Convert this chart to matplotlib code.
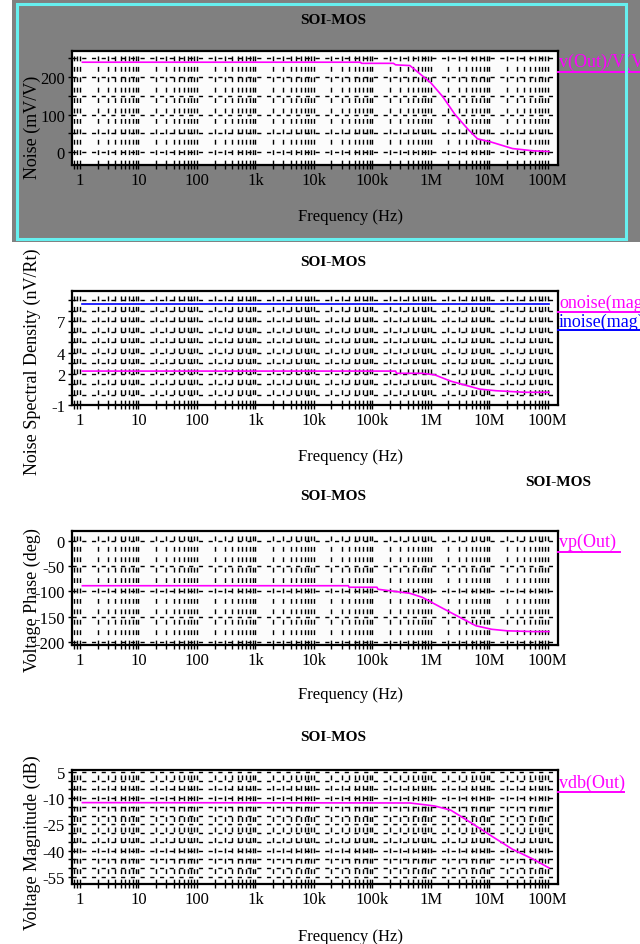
import matplotlib
matplotlib.use("Agg")
import matplotlib.pyplot as plt
from matplotlib.patches import Rectangle
from matplotlib.lines import Line2D
from matplotlib.ticker import FixedLocator, NullFormatter, LogLocator

W, H = 640, 945
SERIF = "Liberation Serif"
MAG = "#ff00ff"
BLUE = "#0000ff"

# ---- values ----
x_ticks = [1, 10, 100, 1e3, 1e4, 1e5, 1e6, 1e7, 1e8]
x_labels = ["1", "10", "100", "1k", "10k", "100k", "1M", "10M", "100M"]

f_noise = [1.1, 6.3e4, 6.5e4, 2.3e5, 2.5e5, 4.4e5, 1e6, 1.6e6, 2.6e6, 4.3e6, 6.3e6, 1.1e7, 2.5e7, 5.6e7, 1.05e8]
noise_mv = [240, 240, 237, 237, 233, 231, 185, 148, 100, 61, 35, 26, 9, 3, 1]

f_onoise = [1.1, 2.5e5, 2.6e5, 7.2e5, 1.17e6, 2.2e6, 6.9e6, 1.3e7, 4.1e7, 1.05e8]
onoise = [2.23, 2.23, 2.02, 2.02, 1.87, 1.27, 0.51, 0.36, 0.21, 0.21]
f_inoise = [1.1, 1.05e8]
inoise = [8.6, 8.6]

f_phase = [1.1, 3.9e4, 4e4, 1.2e5, 1.25e5, 4.4e5, 7.2e5, 1.16e6, 2.2e6, 3.6e6, 5.9e6, 1.1e7, 2e7, 5.6e7, 1.05e8]
phase = [-89, -89, -92, -92, -96, -104, -112, -125, -142, -155, -168, -175, -178, -179.5, -179.5]

f_vdb = [1.1, 4.4e5, 1.16e6, 2.2e6, 5e6, 1.1e7, 2.5e7, 5.6e7, 1.05e8]
vdb = [-12.6, -12.8, -14.5, -16.9, -24.3, -31.7, -39.2, -44.8, -49.8]


def fx(x):
    return x / W


def fy(y):
    return 1 - y / H


fig = plt.figure(figsize=(6.4, 9.45), dpi=100)
fig.patch.set_facecolor("white")

# grey backdrop of the selected (top) plot, kept under the axes; cyan frame on top
fig.patches.append(Rectangle((fx(12), fy(243)), fx(628), 243 / H, transform=fig.transFigure,
                             facecolor="#808080", edgecolor="none", zorder=-2))
fig.patches.append(Rectangle((fx(17), fy(240)), fx(609), 235 / H, transform=fig.transFigure,
                             facecolor="none", edgecolor="#66f0f0", lw=2.2, zorder=10))


def panel(top, ylim, yticks, ygrid, ylabel, ylabel_y, title_y, xlabel_y):
    ax = fig.add_axes([fx(72), fy(top + 114), fx(486), 114 / H])
    ax.set_zorder(1)
    ax.set_facecolor("#fcfcfc")
    ax.set_xscale("log")
    ax.set_xlim(0.73, 1.5e8)
    ax.set_ylim(*ylim)
    ax.xaxis.set_major_locator(FixedLocator(x_ticks))
    ax.set_xticklabels(x_labels)
    ax.xaxis.set_minor_locator(LogLocator(base=10, subs=range(2, 10), numticks=20))
    ax.xaxis.set_minor_formatter(NullFormatter())
    ax.yaxis.set_major_locator(FixedLocator(yticks))
    ax.set_yticklabels([str(v) for v in yticks])
    ax.yaxis.set_minor_locator(FixedLocator(ygrid))
    ax.tick_params(which="both", direction="out", length=3, width=1, colors="k",
                   labelsize=12, pad=2)
    for lab in ax.get_xticklabels() + ax.get_yticklabels():
        lab.set_family(SERIF)
    ax.grid(True, which="both", axis="x", color="k", lw=1.0, ls=(0, (3.5, 4)))
    ax.grid(True, which="both", axis="y", color="k", lw=1.0, ls=(0, (3, 4)))
    for s in ax.spines.values():
        s.set_linewidth(1.6)
    fig.text(fx(32), fy(ylabel_y), ylabel, rotation=90, ha="center", va="center",
             family=SERIF, fontsize=13, zorder=3)
    fig.text(fx(333), fy(title_y), "SOI-MOS", ha="center", va="center",
             family=SERIF, fontsize=11, weight="bold")
    fig.text(fx(350), fy(xlabel_y), "Frequency (Hz)", ha="center", va="center",
             family=SERIF, fontsize=12)
    return ax


def legend_entry(text, color, y_text, y_line, x_end):
    fig.text(fx(559), fy(y_text), text, ha="left", va="center", color=color,
             family=SERIF, fontsize=13)
    fig.add_artist(Line2D([fx(558), fx(x_end)], [fy(y_line), fy(y_line)],
                          transform=fig.transFigure, color=color, lw=1.4))


# 1: noise gain
ax1 = panel(52, (-35, 270), [0, 100, 200], [0, 50, 100, 150, 200, 250],
            "Noise (mV/V)", 127, 21, 217)
ax1.plot(f_noise, noise_mv, color=MAG, lw=1.2)
legend_entry("v(Out)/V(Vin)", MAG, 62, 73, 640)

# 2: noise spectral density
ax2 = panel(292, (-1, 9.86), [-1, 2, 4, 7], list(range(-1, 10)),
            "Noise Spectral Density (nV/Rt)", 362, 263, 457)
ax2.plot(f_inoise, inoise, color=BLUE, lw=1.2)
ax2.plot(f_onoise, onoise, color=MAG, lw=1.2)
legend_entry("onoise(mag)", MAG, 303, 313, 640)
legend_entry("inoise(mag)", BLUE, 322, 331, 640)

# 3: phase
fig.text(fx(558), fy(482), "SOI-MOS", ha="center", va="center",
         family=SERIF, fontsize=11, weight="bold")
ax3 = panel(532, (-206, 19), [0, -50, -100, -150, -200], [0, -50, -100, -150, -200],
            "Voltage Phase (deg)", 600, 497, 695)
ax3.plot(f_phase, phase, color=MAG, lw=1.2)
legend_entry("vp(Out)", MAG, 542, 553, 620)

# 4: magnitude
ax4 = panel(771, (-59, 6), [5, -10, -25, -40, -55], list(range(-55, 6, 5)),
            "Voltage Magnitude (dB)", 843, 738, 937)
ax4.plot(f_vdb, vdb, color=MAG, lw=1.2)
legend_entry("vdb(Out)", MAG, 783, 793, 624)

fig.savefig("out.png", dpi=100)
